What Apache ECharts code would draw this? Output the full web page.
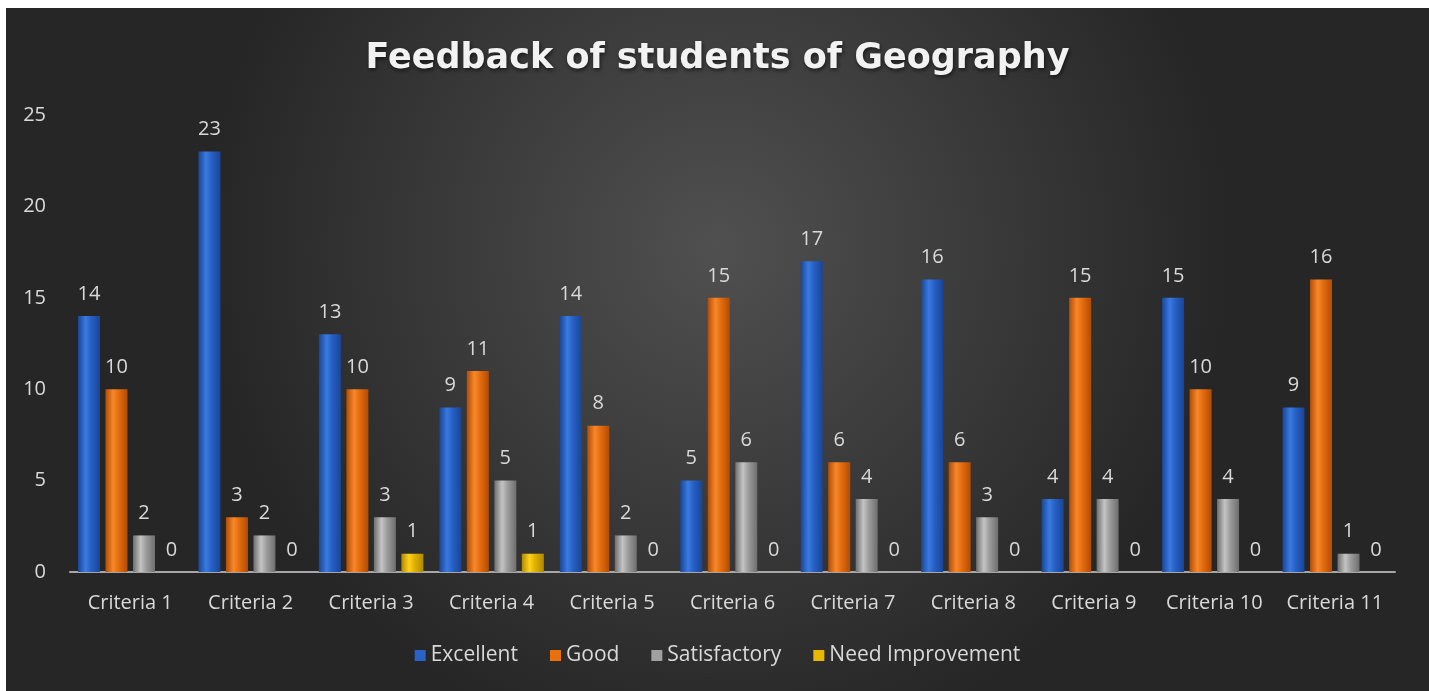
<!DOCTYPE html>
<html>
<head>
<meta charset="utf-8">
<script src="https://cdn.jsdelivr.net/npm/echarts@6/dist/echarts.min.js"></script>
<style>
  html, body { margin: 0; padding: 0; background: #fff; }
  #chart { position: absolute; left: 6px; top: 8px; width: 1423px; height: 683px; }
</style>
</head>
<body>
<div id="chart"></div>
<script>
const categories = ['Criteria 1', 'Criteria 2', 'Criteria 3', 'Criteria 4', 'Criteria 5', 'Criteria 6',
  'Criteria 7', 'Criteria 8', 'Criteria 9', 'Criteria 10', 'Criteria 11']
const excellent = [14, 23, 13, 9, 14, 5, 17, 16, 4, 15, 9]
const good = [10, 3, 10, 11, 8, 15, 6, 6, 15, 10, 16]
const satisfactory = [2, 2, 3, 5, 2, 6, 4, 3, 4, 4, 1]
const needImprovement = [0, 0, 1, 1, 0, 0, 0, 0, 0, 0, 0]

const font = '"Open Sans", "Noto Sans", sans-serif'

// 圆柱效果：左右暗、中间亮
const tube = (edge, mid, light) => new echarts.graphic.LinearGradient(0, 0, 1, 0, [
  { offset: 0, color: edge },
  { offset: 0.35, color: light },
  { offset: 0.6, color: mid },
  { offset: 1, color: edge }
])

const makeSeries = (name, data, edge, mid, light) => ({
  name,
  type: 'bar',
  data,
  barWidth: 22,
  barGap: '25%',
  itemStyle: { color: tube(edge, mid, light) },
  label: {
    show: true,
    position: 'top',
    distance: 12,
    color: '#d9d9d9',
    fontSize: 20,
    fontFamily: font
  }
})

const chart = echarts.init(document.getElementById('chart'))
chart.setOption({
  backgroundColor: new echarts.graphic.RadialGradient(0.5, 0.35, 0.75, [
    { offset: 0, color: '#505050' },
    { offset: 1, color: '#262626' }
  ]),
  title: {
    text: 'Feedback of students of Geography',
    left: 'center',
    top: 28,
    textStyle: {
      color: '#f2f2f2',
      fontSize: 35,
      fontWeight: 'bold',
      fontFamily: '"DejaVu Sans", sans-serif',
      textShadowColor: 'rgba(0,0,0,0.6)',
      textShadowBlur: 4,
      textShadowOffsetX: 1,
      textShadowOffsetY: 2
    }
  },
  legend: {
    bottom: 20,
    left: 'center',
    itemWidth: 11,
    itemHeight: 11,
    itemGap: 32,
    icon: 'rect',
    textStyle: { color: '#d9d9d9', fontSize: 21, fontFamily: font },
    data: [
      { name: 'Excellent', itemStyle: { color: '#2a62c8' } },
      { name: 'Good', itemStyle: { color: '#e8700f' } },
      { name: 'Satisfactory', itemStyle: { color: '#a0a0a0' } },
      { name: 'Need Improvement', itemStyle: { color: '#e8b800' } }
    ]
  },
  grid: { left: 64, right: 34, top: 107, bottom: 119 },
  xAxis: {
    type: 'category',
    data: categories,
    axisLine: { lineStyle: { color: '#a6a6a6', width: 2 } },
    axisTick: { show: false },
    axisLabel: { color: '#d9d9d9', fontSize: 20, fontFamily: font, margin: 21, interval: 0 }
  },
  yAxis: {
    type: 'value',
    min: 0,
    max: 25,
    interval: 5,
    axisLine: { show: false },
    axisTick: { show: false },
    splitLine: { show: false },
    axisLabel: { color: '#d9d9d9', fontSize: 20, fontFamily: font, margin: 24 }
  },
  series: [
    makeSeries('Excellent', excellent, '#1a4596', '#2660c4', '#3a7ae0'),
    makeSeries('Good', good, '#b24c06', '#e36c0e', '#f7882a'),
    makeSeries('Satisfactory', satisfactory, '#6e6e6e', '#9c9c9c', '#c4c4c4'),
    makeSeries('Need Improvement', needImprovement, '#b08a00', '#e0b000', '#ffd21a')
  ]
})
</script>
</body>
</html>
